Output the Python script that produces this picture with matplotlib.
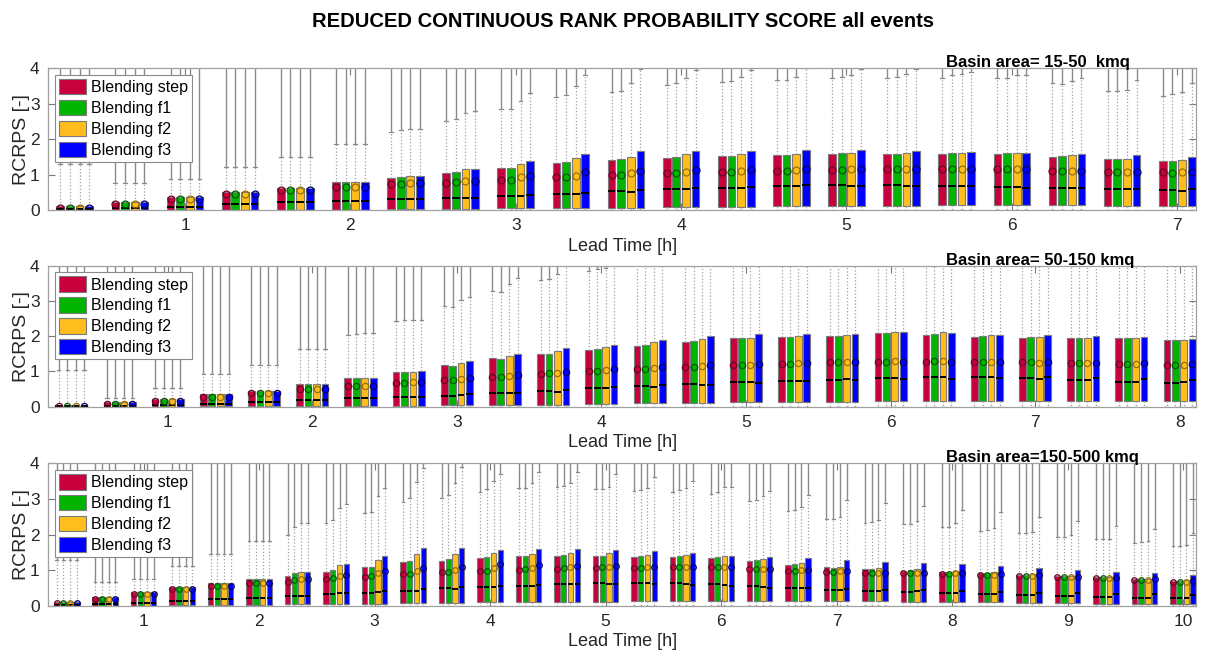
import matplotlib.pyplot as plt
import numpy as np
from matplotlib.patches import Patch

plt.rcParams['font.family'] = ['Liberation Sans', 'DejaVu Sans']

METHODS = ['Blending step', 'Blending f1', 'Blending f2', 'Blending f3']
FILL = ['#c8003c', '#00b400', '#ffbe1e', '#0000ff']
MEAN_EDGE = ['#6e0022', '#005a00', '#9a6e00', '#000070']

# ---- basin 15-50 kmq : rows = lead-time step (20 min), cols = methods
P1_Q1 = [0.0, 0.0, 0.0, 0.01, 0.01, 0.01, 0.02, 0.04, 0.05, 0.06, 0.07,
         0.08, 0.09, 0.10, 0.12, 0.12, 0.13, 0.13, 0.13, 0.12, 0.12]
P1_Q3 = [[0.10, 0.10, 0.10, 0.10], [0.22, 0.22, 0.22, 0.22], [0.38, 0.38, 0.38, 0.38],
         [0.52, 0.52, 0.52, 0.52], [0.63, 0.63, 0.63, 0.63], [0.79, 0.79, 0.79, 0.79],
         [0.90, 0.94, 0.96, 0.97], [1.04, 1.06, 1.15, 1.17], [1.20, 1.20, 1.29, 1.37],
         [1.32, 1.36, 1.46, 1.58], [1.40, 1.43, 1.51, 1.67], [1.48, 1.50, 1.58, 1.67],
         [1.53, 1.53, 1.58, 1.67], [1.55, 1.56, 1.58, 1.70], [1.58, 1.60, 1.60, 1.70],
         [1.58, 1.58, 1.62, 1.68], [1.58, 1.60, 1.62, 1.64], [1.58, 1.60, 1.60, 1.60],
         [1.51, 1.53, 1.56, 1.58], [1.43, 1.43, 1.44, 1.54], [1.37, 1.39, 1.42, 1.51]]
P1_MED = [[0.02, 0.02, 0.02, 0.02], [0.05, 0.05, 0.05, 0.05], [0.09, 0.09, 0.09, 0.09],
          [0.16, 0.16, 0.16, 0.16], [0.23, 0.23, 0.23, 0.23], [0.26, 0.26, 0.26, 0.26],
          [0.31, 0.31, 0.31, 0.31], [0.35, 0.35, 0.35, 0.35], [0.40, 0.40, 0.41, 0.42],
          [0.45, 0.45, 0.45, 0.49], [0.54, 0.54, 0.51, 0.57], [0.58, 0.58, 0.58, 0.61],
          [0.63, 0.63, 0.63, 0.65], [0.68, 0.68, 0.68, 0.70], [0.71, 0.71, 0.68, 0.68],
          [0.70, 0.70, 0.69, 0.68], [0.69, 0.69, 0.68, 0.67], [0.66, 0.66, 0.65, 0.63],
          [0.63, 0.63, 0.61, 0.61], [0.58, 0.58, 0.58, 0.58], [0.56, 0.56, 0.55, 0.58]]
P1_MEAN = [[0.06, 0.06, 0.06, 0.06], [0.17, 0.17, 0.17, 0.17], [0.32, 0.32, 0.32, 0.32],
           [0.45, 0.45, 0.45, 0.45], [0.57, 0.57, 0.57, 0.57], [0.66, 0.66, 0.66, 0.66],
           [0.73, 0.74, 0.75, 0.75], [0.77, 0.78, 0.83, 0.83], [0.85, 0.85, 0.92, 0.96],
           [0.92, 0.92, 0.97, 1.06], [0.99, 1.00, 1.04, 1.10], [1.05, 1.05, 1.08, 1.12],
           [1.08, 1.08, 1.10, 1.13], [1.10, 1.11, 1.13, 1.15], [1.13, 1.13, 1.15, 1.17],
           [1.15, 1.15, 1.15, 1.15], [1.15, 1.15, 1.15, 1.15], [1.15, 1.15, 1.15, 1.15],
           [1.11, 1.11, 1.11, 1.11], [1.08, 1.08, 1.08, 1.08], [1.06, 1.05, 1.06, 1.08]]
P1_WHI = [[1.30, 1.30, 1.30, 1.30], [0.75, 0.75, 0.75, 0.75], [0.88, 0.88, 0.88, 0.88],
          [1.22, 1.22, 1.22, 1.22], [1.50, 1.50, 1.50, 1.50], [1.87, 1.87, 1.87, 1.87],
          [2.19, 2.26, 2.30, 2.30], [2.52, 2.57, 2.75, 2.80], [2.85, 2.85, 3.09, 3.30],
          [3.18, 3.25, 3.50, 3.80], [3.32, 3.37, 3.60, 3.97], [3.53, 3.58, 3.72, 3.96],
          [3.61, 3.64, 3.75, 3.96], [3.66, 3.66, 3.75, 4.00], [3.73, 3.75, 3.80, 3.98],
          [3.73, 3.75, 3.85, 3.98], [3.73, 3.80, 3.85, 3.90], [3.73, 3.73, 3.81, 3.81],
          [3.58, 3.56, 3.64, 3.73], [3.37, 3.37, 3.39, 3.66], [3.23, 3.27, 3.32, 3.58]]

# ---- basin 50-150 kmq
P2_Q1 = [0.0, 0.0, 0.0, 0.01, 0.01, 0.02, 0.02, 0.03, 0.04, 0.05, 0.06, 0.08,
         0.09, 0.10, 0.12, 0.13, 0.14, 0.15, 0.15, 0.15, 0.15, 0.15, 0.15, 0.15]
P2_Q3 = [[0.05, 0.05, 0.05, 0.05], [0.13, 0.13, 0.13, 0.13], [0.22, 0.22, 0.22, 0.22],
         [0.36, 0.36, 0.36, 0.36], [0.45, 0.45, 0.45, 0.45], [0.63, 0.63, 0.63, 0.63],
         [0.82, 0.82, 0.82, 0.82], [0.97, 0.97, 0.99, 1.00], [1.17, 1.16, 1.25, 1.30],
         [1.37, 1.35, 1.45, 1.50], [1.48, 1.50, 1.58, 1.67], [1.61, 1.64, 1.68, 1.75],
         [1.73, 1.74, 1.83, 1.89], [1.84, 1.86, 1.91, 2.00], [1.94, 1.96, 1.96, 2.06],
         [1.99, 1.97, 2.00, 2.06], [2.01, 2.00, 2.02, 2.05], [2.08, 2.08, 2.12, 2.11],
         [2.03, 2.06, 2.11, 2.09], [1.98, 2.00, 2.03, 2.03], [1.96, 1.97, 1.99, 2.02],
         [1.96, 1.95, 1.95, 2.01], [1.94, 1.94, 1.94, 1.98], [1.89, 1.89, 1.90, 1.93]]
P2_MED = [[0.01, 0.01, 0.01, 0.01], [0.02, 0.02, 0.02, 0.02], [0.05, 0.05, 0.05, 0.05],
          [0.07, 0.07, 0.07, 0.07], [0.12, 0.12, 0.12, 0.12], [0.19, 0.19, 0.19, 0.19],
          [0.24, 0.24, 0.24, 0.24], [0.28, 0.28, 0.28, 0.28], [0.31, 0.31, 0.32, 0.35],
          [0.40, 0.40, 0.38, 0.40], [0.44, 0.44, 0.42, 0.47], [0.54, 0.54, 0.52, 0.57],
          [0.59, 0.58, 0.57, 0.61], [0.64, 0.64, 0.61, 0.62], [0.69, 0.69, 0.71, 0.68],
          [0.72, 0.73, 0.73, 0.72], [0.77, 0.77, 0.78, 0.75], [0.81, 0.82, 0.81, 0.78],
          [0.84, 0.84, 0.84, 0.78], [0.83, 0.83, 0.83, 0.82], [0.80, 0.80, 0.79, 0.83],
          [0.76, 0.76, 0.77, 0.80], [0.71, 0.71, 0.71, 0.78], [0.68, 0.68, 0.69, 0.75]]
P2_MEAN = [[0.03, 0.03, 0.03, 0.03], [0.08, 0.08, 0.08, 0.08], [0.17, 0.17, 0.17, 0.17],
           [0.28, 0.28, 0.28, 0.28], [0.38, 0.38, 0.38, 0.38], [0.49, 0.49, 0.49, 0.49],
           [0.59, 0.59, 0.59, 0.59], [0.66, 0.68, 0.71, 0.71], [0.76, 0.76, 0.79, 0.82],
           [0.85, 0.85, 0.87, 0.91], [0.94, 0.95, 0.96, 0.99], [1.01, 1.01, 1.03, 1.07],
           [1.07, 1.08, 1.09, 1.13], [1.13, 1.13, 1.14, 1.17], [1.19, 1.19, 1.19, 1.21],
           [1.22, 1.22, 1.23, 1.25], [1.26, 1.26, 1.26, 1.26], [1.28, 1.28, 1.29, 1.28],
           [1.28, 1.29, 1.30, 1.28], [1.27, 1.27, 1.27, 1.27], [1.26, 1.26, 1.25, 1.27],
           [1.23, 1.23, 1.23, 1.25], [1.21, 1.21, 1.21, 1.23], [1.18, 1.17, 1.17, 1.21]]
P2_WHI = [[1.05, 1.05, 1.05, 1.05], [0.25, 0.25, 0.25, 0.25], [0.54, 0.54, 0.54, 0.54],
          [0.92, 0.92, 0.92, 0.92], [1.18, 1.18, 1.18, 1.18], [1.63, 1.63, 1.63, 1.63],
          [2.03, 2.06, 2.08, 2.08], [2.43, 2.46, 2.46, 2.46], [2.86, 2.82, 3.03, 3.12],
          [3.29, 3.24, 3.47, 3.64], [3.60, 3.61, 3.75, 4.05], [3.85, 3.90, 3.92, 4.10],
          [4.3, 4.3, 4.3, 4.3], [4.3, 4.3, 4.3, 4.3], [4.3, 4.3, 4.3, 4.3],
          [4.3, 4.3, 4.3, 4.3], [4.3, 4.3, 4.3, 4.3], [4.3, 4.3, 4.3, 4.3],
          [4.3, 4.3, 4.3, 4.3], [4.3, 4.3, 4.3, 4.3], [4.3, 4.3, 4.3, 4.3],
          [4.3, 4.3, 4.3, 4.3], [4.3, 4.3, 4.3, 4.3], [4.3, 4.3, 4.3, 4.3]]

# ---- basin 150-500 kmq
P3_Q1 = [0.0, 0.0, 0.0, 0.01, 0.01, 0.02, 0.04, 0.05, 0.06, 0.07, 0.08, 0.09, 0.09, 0.10, 0.11,
         0.12, 0.13, 0.13, 0.13, 0.13, 0.13, 0.12, 0.11, 0.10, 0.09, 0.08, 0.07, 0.06, 0.06, 0.05]
P3_Q3 = [[0.10, 0.10, 0.10, 0.10], [0.25, 0.25, 0.25, 0.25], [0.39, 0.39, 0.39, 0.39],
         [0.53, 0.53, 0.53, 0.53], [0.63, 0.63, 0.63, 0.63], [0.74, 0.74, 0.74, 0.74],
         [0.83, 0.93, 0.96, 0.96], [0.94, 1.00, 1.14, 1.17], [1.08, 1.09, 1.28, 1.40],
         [1.22, 1.26, 1.45, 1.61], [1.26, 1.30, 1.44, 1.63], [1.35, 1.38, 1.48, 1.56],
         [1.40, 1.41, 1.46, 1.59], [1.41, 1.42, 1.47, 1.60], [1.40, 1.41, 1.47, 1.56],
         [1.38, 1.40, 1.43, 1.54], [1.37, 1.40, 1.42, 1.47], [1.35, 1.38, 1.41, 1.41],
         [1.26, 1.28, 1.31, 1.37], [1.15, 1.17, 1.20, 1.33], [1.08, 1.07, 1.10, 1.28],
         [1.02, 1.03, 1.05, 1.24], [0.98, 0.99, 1.02, 1.21], [0.94, 0.96, 0.97, 1.16],
         [0.91, 0.91, 0.94, 1.11], [0.86, 0.86, 0.88, 1.07], [0.83, 0.83, 0.84, 1.00],
         [0.80, 0.80, 0.81, 0.96], [0.74, 0.74, 0.75, 0.91], [0.70, 0.70, 0.71, 0.85]]
P3_MED = [[0.02, 0.02, 0.02, 0.02], [0.04, 0.04, 0.04, 0.04], [0.07, 0.07, 0.07, 0.07],
          [0.12, 0.12, 0.12, 0.12], [0.18, 0.18, 0.18, 0.18], [0.23, 0.23, 0.23, 0.23],
          [0.27, 0.27, 0.28, 0.28], [0.33, 0.33, 0.35, 0.37], [0.37, 0.37, 0.39, 0.41],
          [0.42, 0.42, 0.42, 0.47], [0.49, 0.49, 0.48, 0.52], [0.52, 0.53, 0.53, 0.55],
          [0.54, 0.56, 0.54, 0.58], [0.60, 0.60, 0.61, 0.61], [0.63, 0.63, 0.61, 0.61],
          [0.63, 0.65, 0.63, 0.60], [0.63, 0.63, 0.61, 0.57], [0.60, 0.60, 0.57, 0.55],
          [0.55, 0.55, 0.53, 0.51], [0.49, 0.49, 0.49, 0.51], [0.44, 0.44, 0.44, 0.47],
          [0.41, 0.41, 0.41, 0.44], [0.39, 0.39, 0.41, 0.44], [0.35, 0.35, 0.37, 0.42],
          [0.33, 0.33, 0.33, 0.39], [0.29, 0.30, 0.30, 0.37], [0.27, 0.27, 0.28, 0.35],
          [0.25, 0.25, 0.25, 0.33], [0.22, 0.22, 0.23, 0.32], [0.21, 0.21, 0.22, 0.29]]
P3_MEAN = [[0.07, 0.07, 0.07, 0.07], [0.19, 0.19, 0.19, 0.19], [0.33, 0.33, 0.33, 0.33],
           [0.46, 0.46, 0.46, 0.46], [0.56, 0.56, 0.56, 0.56], [0.63, 0.63, 0.63, 0.63],
           [0.67, 0.72, 0.74, 0.74], [0.74, 0.77, 0.83, 0.86], [0.82, 0.83, 0.91, 0.98],
           [0.89, 0.89, 0.97, 1.07], [0.96, 0.96, 1.00, 1.10], [0.98, 0.98, 1.06, 1.16],
           [1.00, 1.02, 1.07, 1.15], [1.03, 1.05, 1.10, 1.12], [1.07, 1.08, 1.10, 1.11],
           [1.07, 1.07, 1.10, 1.10], [1.08, 1.08, 1.08, 1.08], [1.08, 1.08, 1.08, 1.08],
           [1.02, 1.02, 1.04, 1.04], [0.97, 0.97, 0.99, 0.99], [0.96, 0.96, 0.97, 0.97],
           [0.93, 0.93, 0.93, 0.93], [0.93, 0.93, 0.93, 0.93], [0.88, 0.88, 0.91, 0.91],
           [0.86, 0.86, 0.86, 0.89], [0.83, 0.83, 0.83, 0.86], [0.82, 0.82, 0.82, 0.82],
           [0.77, 0.77, 0.77, 0.79], [0.72, 0.72, 0.72, 0.74], [0.67, 0.67, 0.67, 0.70]]
P3_WHI = [[1.28, 1.28, 1.28, 1.28], [0.67, 0.67, 0.67, 0.67], [0.74, 0.74, 0.74, 0.74],
          [1.12, 1.12, 1.12, 1.12], [1.45, 1.45, 1.45, 1.45], [1.83, 1.83, 1.83, 1.83],
          [1.99, 2.22, 2.31, 2.31], [2.31, 2.41, 2.74, 2.86], [2.60, 2.64, 3.08, 3.32],
          [2.92, 3.02, 3.48, 3.86], [3.02, 3.11, 3.44, 3.90], [3.19, 3.27, 3.50, 3.69],
          [3.30, 3.32, 3.46, 3.77], [3.34, 3.36, 3.46, 3.77], [3.27, 3.28, 3.34, 3.70],
          [3.23, 3.25, 3.32, 3.61], [3.19, 3.25, 3.32, 3.50], [3.13, 3.20, 3.34, 3.33],
          [2.94, 2.97, 3.07, 3.23], [2.66, 2.69, 2.78, 3.11], [2.45, 2.43, 2.50, 2.97],
          [2.33, 2.36, 2.41, 2.88], [2.29, 2.30, 2.39, 2.80], [2.20, 2.22, 2.31, 2.69],
          [2.10, 2.12, 2.17, 2.64], [2.03, 2.05, 2.08, 2.50], [1.92, 1.94, 2.00, 2.38],
          [1.87, 1.87, 1.87, 2.25], [1.77, 1.78, 1.82, 2.15], [1.68, 1.68, 1.70, 2.03]]

BASINS = ['Basin area= 15-50  kmq', 'Basin area= 50-150 kmq', 'Basin area=150-500 kmq']

GRAY = '#8a8a8a'
TXT = '#262626'


def draw_panel(ax, q1, q3, med, mean, whi, basin, ms):
    n = len(q3)
    pos = np.arange(1, n + 1)
    q3, med, mean, whi = map(np.asarray, (q3, med, mean, whi))
    for m in range(4):
        x = pos + (m - 1.5) * 0.175
        stats = [dict(med=med[i, m], q1=q1[i], q3=q3[i, m], whislo=0.0,
                      whishi=whi[i, m], mean=mean[i, m], fliers=[])
                 for i in range(n)]
        # dense outliers show up as a solid grey stroke above the whisker
        keep = whi[:, m] < 4
        ax.vlines(x[keep], whi[keep, m], 4.2, colors=GRAY, lw=1.0, zorder=1)
        ax.bxp(stats, positions=x, widths=0.14, capwidths=0.07,
               patch_artist=True, showmeans=True, manage_ticks=False,
               boxprops=dict(facecolor=FILL[m], edgecolor='#7a7a7a', lw=0.8),
               whiskerprops=dict(color='#a0a0a0', ls=':', lw=0.9),
               capprops=dict(color=GRAY, lw=0.9),
               medianprops=dict(color='black', lw=1.4),
               meanprops=dict(marker='o', mfc='none', mec=MEAN_EDGE[m],
                              mew=0.9, ms=ms))

    ax.set_xlim(0.515, n + 0.35)
    ax.set_ylim(0, 4)
    ax.set_yticks([0, 1, 2, 3, 4])
    ax.set_xticks(np.arange(3, n + 1, 3))
    ax.set_xticklabels([str(k) for k in range(1, n // 3 + 1)])
    ax.tick_params(direction='in', top=True, right=True, length=5,
                   color='#7a7a7a', labelcolor=TXT, labelsize=12.5, pad=6)
    for s in ax.spines.values():
        s.set_color('#a0a0a0')
        s.set_linewidth(0.9)
    ax.set_xlabel('Lead Time [h]', fontsize=13, color=TXT, labelpad=3)
    ax.set_ylabel('RCRPS [-]', fontsize=14, color=TXT, labelpad=0)
    ax.text(0.782, 1.006, basin, transform=ax.transAxes, ha='left',
            va='baseline', fontsize=12, fontweight='bold')

    handles = [Patch(facecolor=c, edgecolor='#7a7a7a', lw=0.8) for c in FILL]
    leg = ax.legend(handles, METHODS, loc='upper left',
                    bbox_to_anchor=(0.006, 0.952), borderaxespad=0,
                    fontsize=11.5, handlelength=1.7, handleheight=1.1,
                    labelspacing=0.3, handletextpad=0.3, borderpad=0.25,
                    fancybox=False, framealpha=1, edgecolor='#8a8a8a')
    leg.get_frame().set_linewidth(0.8)
    leg.set_zorder(10)


fig = plt.figure(figsize=(12.07, 6.59), dpi=100)
axes = [fig.add_axes([0.0398, 0.6813, 0.9515, 0.2150]),
        fig.add_axes([0.0398, 0.3829, 0.9515, 0.2140]),
        fig.add_axes([0.0398, 0.0809, 0.9515, 0.2160])]

draw_panel(axes[0], P1_Q1, P1_Q3, P1_MED, P1_MEAN, P1_WHI, BASINS[0], 5)
draw_panel(axes[1], P2_Q1, P2_Q3, P2_MED, P2_MEAN, P2_WHI, BASINS[1], 4.5)
draw_panel(axes[2], P3_Q1, P3_Q3, P3_MED, P3_MEAN, P3_WHI, BASINS[2], 4)

fig.text(0.516, 0.967, 'REDUCED CONTINUOUS RANK PROBABILITY SCORE all events',
         ha='center', va='center', fontsize=14.5, fontweight='bold')

fig.savefig('out.png', dpi=100)
